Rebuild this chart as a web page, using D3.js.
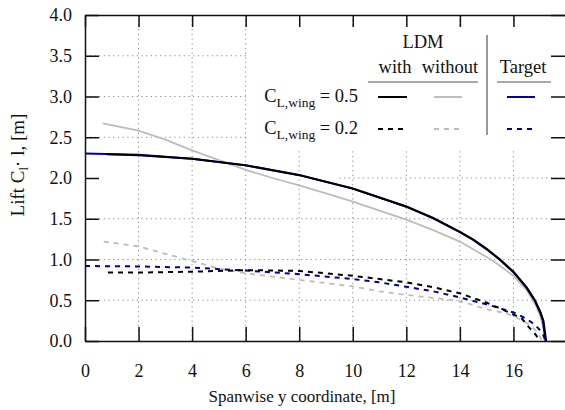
<!DOCTYPE html>
<html>
<head>
<meta charset="utf-8">
<script src="https://cdn.jsdelivr.net/npm/d3@7"></script>
<style>
  body { margin: 0; background: #fff; }
</style>
</head>
<body>
<div id="chart"></div>
<script>
// spanwise positions and lift values
var targetHigh = [[0,2.30],[2,2.285],[4,2.237],[6,2.156],[8,2.036],[10,1.87],[12,1.648],[13,1.506],[14,1.336],[14.5,1.24],[15,1.125],[15.5,0.995],[16,0.844],[16.5,0.649],[16.8,0.493],[17.0,0.35],[17.1,0.248],[17.2,0]];
var withHigh = [[0.8,2.29],[2,2.28],[4,2.235],[6,2.155],[8,2.035],[10,1.872],[12,1.65],[13,1.51],[14,1.34],[14.5,1.245],[15,1.13],[15.5,1.0],[16,0.85],[16.5,0.655],[16.8,0.50],[17.0,0.36],[17.12,0.25],[17.22,0]];
var withoutHigh = [[0.66,2.67],[2,2.58],[3,2.47],[4,2.34],[5,2.22],[6,2.10],[7,2.00],[8,1.91],[9,1.81],[10,1.71],[11,1.60],[12,1.49],[13,1.36],[14,1.22],[15,1.03],[15.3,0.97],[16,0.80],[16.5,0.62],[16.8,0.46],[17.0,0.31],[17.15,0.12],[17.2,0]];

var targetLow = [[0,0.92],[2,0.915],[4,0.90],[6,0.865],[8,0.82],[10,0.76],[11,0.72],[12,0.665],[13,0.61],[14,0.535],[15,0.45],[15.5,0.40],[16,0.35],[16.5,0.27],[16.8,0.20],[17.0,0.13],[17.1,0.08],[17.2,0]];
var withLow = [[0.86,0.84],[2,0.84],[4,0.85],[6,0.87],[8,0.86],[10,0.80],[11,0.76],[12,0.72],[13,0.66],[14,0.585],[15,0.47],[15.5,0.40],[16,0.325],[16.3,0.28],[16.6,0.16],[16.85,0.07],[16.95,0]];
var withoutLow = [[0.7,1.22],[2,1.16],[3,1.07],[4,0.98],[5,0.89],[6,0.83],[7,0.79],[8,0.75],[9,0.71],[10,0.67],[11,0.61],[12,0.565],[13,0.53],[14,0.49],[15,0.39],[15.7,0.34],[16,0.31],[16.5,0.22],[16.8,0.14],[17.0,0.05],[17.05,0]];

var xTicks = [0,2,4,6,8,10,12,14,16];
var yTicks = [0,0.5,1.0,1.5,2.0,2.5,3.0,3.5,4.0];

(function () {

  //margins
  var margin = { top: 15, left: 85, right: 0, bottom: 69 },
      width = 482,
      height = 326;

  var svg = d3.select("#chart")
      .append("svg")
      .attr("width", 565)
      .attr("height", 410)
      .attr("font-family", "Liberation Serif")
      .append("g")
      .attr("transform", "translate(" + margin.left + "," + margin.top + ")");

  //scales
  var x = d3.scaleLinear().domain([0, 18]).range([0, width]);
  var y = d3.scaleLinear().domain([0, 4]).range([height, 0]);

  //grid
  var grid = svg.append("g")
      .attr("stroke", "#8a8a8a")
      .attr("stroke-width", 1)
      .attr("stroke-dasharray", "1.2,3.5");

  grid.selectAll(".vgrid")
    .data(xTicks.filter(function (d) { return d > 0; }))
    .enter().append("line")
    .attr("x1", function (d) { return x(d); })
    .attr("x2", function (d) { return x(d); })
    .attr("y1", 0)
    .attr("y2", height);

  grid.selectAll(".hgrid")
    .data(yTicks.filter(function (d) { return d > 0 && d < 4; }))
    .enter().append("line")
    .attr("x1", function (d) { return d === 2.0 ? x(9.5) : 0; })
    .attr("x2", width)
    .attr("y1", function (d) { return y(d); })
    .attr("y2", function (d) { return y(d); });

  //opaque key box
  svg.append("rect")
    .attr("x", 163)
    .attr("y", 12)
    .attr("width", 330)
    .attr("height", 121)
    .attr("fill", "#fff");

  //curves
  var line = d3.line()
    .x(function (d) { return x(d[0]); })
    .y(function (d) { return y(d[1]); });

  var series = [
    { data: withoutHigh, color: "#bdbdbd", w: 1.8, dash: null },
    { data: withoutLow, color: "#bdbdbd", w: 1.8, dash: "5,5" },
    { data: targetHigh, color: "#0000a8", w: 2, dash: null },
    { data: targetLow, color: "#0000a8", w: 2, dash: "5,5" },
    { data: withHigh, color: "#000", w: 2, dash: null },
    { data: withLow, color: "#000", w: 2, dash: "5,5" }
  ];

  svg.selectAll(".curve")
    .data(series)
    .enter().append("path")
    .attr("class", "curve")
    .attr("d", function (d) { return line(d.data); })
    .attr("fill", "none")
    .attr("stroke", function (d) { return d.color; })
    .attr("stroke-width", function (d) { return d.w; })
    .attr("stroke-dasharray", function (d) { return d.dash; });

  //axes
  var yAxis = d3.axisLeft(y).tickValues(yTicks).tickFormat(d3.format(".1f"))
    .tickSizeInner(-14).tickSizeOuter(0).tickPadding(13);
  var xAxis = d3.axisBottom(x).tickValues(xTicks).tickFormat(d3.format("d"))
    .tickSizeInner(-14).tickSizeOuter(0).tickPadding(23);
  var topAxis = d3.axisTop(x).tickValues(xTicks).tickFormat("")
    .tickSizeInner(-12).tickSizeOuter(0);
  var rightAxis = d3.axisRight(y).tickValues(yTicks).tickFormat("")
    .tickSizeInner(-16).tickSizeOuter(0);

  svg.append("g").attr("class", "axis").call(yAxis);
  svg.append("g").attr("class", "axis")
    .attr("transform", "translate(0," + height + ")").call(xAxis);
  svg.append("g").attr("class", "axis").call(topAxis);
  svg.append("g").attr("class", "axis")
    .attr("transform", "translate(" + width + ",0)").call(rightAxis);

  svg.selectAll(".axis")
    .attr("font-family", "Liberation Serif")
    .attr("font-size", 18);
  svg.selectAll(".axis path, .axis line")
    .attr("stroke", "#111")
    .attr("stroke-width", 1.5);
  svg.selectAll(".axis text")
    .attr("fill", "#111");

  //axis labels
  svg.append("text")
    .attr("x", 217)
    .attr("y", 387)
    .attr("text-anchor", "middle")
    .attr("font-size", 17)
    .text("Spanwise y coordinate, [m]");

  var yl = svg.append("text")
    .attr("transform", "translate(-61," + 150 + ") rotate(-90)")
    .attr("text-anchor", "middle")
    .attr("font-size", 19);
  yl.append("tspan").text("Lift C");
  yl.append("tspan").attr("font-size", 13).attr("dy", 4).text("l");
  yl.append("tspan").attr("dy", -4).text("\u00b7 l, [m]");

  //key
  var key = svg.append("g").attr("font-size", 18.5);

  key.append("text").attr("x", 338).attr("y", 33)
    .attr("text-anchor", "middle").text("LDM");
  key.append("text").attr("x", 310).attr("y", 58)
    .attr("text-anchor", "middle").text("with");
  key.append("text").attr("x", 365).attr("y", 58)
    .attr("text-anchor", "middle").text("without");
  key.append("text").attr("x", 438).attr("y", 58)
    .attr("text-anchor", "middle").text("Target");

  key.append("line").attr("x1", 283).attr("x2", 393).attr("y1", 67).attr("y2", 67)
    .attr("stroke", "#555").attr("stroke-width", 1.2);
  key.append("line").attr("x1", 412).attr("x2", 466).attr("y1", 67).attr("y2", 67)
    .attr("stroke", "#555").attr("stroke-width", 1.2);
  key.append("line").attr("x1", 402).attr("x2", 402).attr("y1", 20).attr("y2", 120)
    .attr("stroke", "#777").attr("stroke-width", 1.5);

  var rows = [
    { label: "0.5", y: 82, dash: null },
    { label: "0.2", y: 114, dash: "5,5" }
  ];
  var cols = [
    { x1: 293, x2: 322, color: "#000" },
    { x1: 349, x2: 377, color: "#bdbdbd" },
    { x1: 422, x2: 450, color: "#0000a8" }
  ];

  rows.forEach(function (r) {
    var t = key.append("text")
      .attr("x", 273)
      .attr("y", r.y + 5)
      .attr("text-anchor", "end");
    t.append("tspan").text("C");
    t.append("tspan").attr("font-size", 13.5).attr("dy", 5).text("L,wing");
    t.append("tspan").attr("dy", -5).text(" = " + r.label);

    cols.forEach(function (c) {
      key.append("line")
        .attr("x1", c.x1).attr("x2", c.x2)
        .attr("y1", r.y).attr("y2", r.y)
        .attr("stroke", c.color)
        .attr("stroke-width", 2)
        .attr("stroke-dasharray", r.dash);
    });
  });

  svg.selectAll("text").attr("fill", "#111");

})()
</script>
</body>
</html>
